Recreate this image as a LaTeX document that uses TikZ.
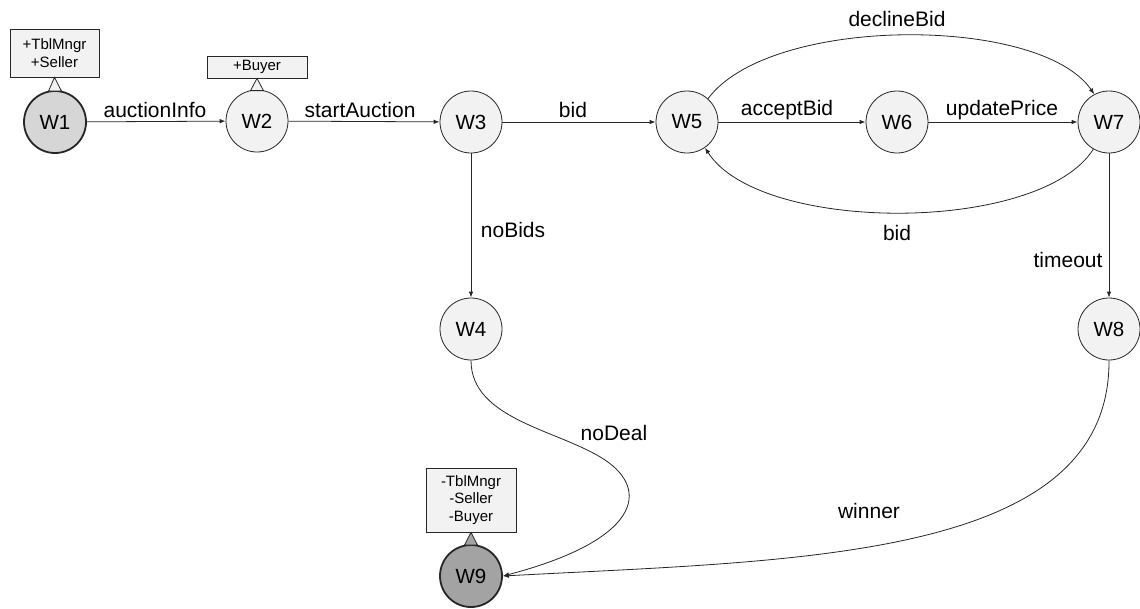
\documentclass[tikz,border=0pt]{standalone}
\usepackage{fontspec}
\setmainfont{Liberation Sans}
\usetikzlibrary{arrows.meta,calc}
\definecolor{nodefill}{HTML}{F2F2F2}
\definecolor{startfill}{HTML}{D6D6D6}
\definecolor{endfill}{HTML}{A3A3A3}
\definecolor{linec}{HTML}{262626}
\begin{document}
\begin{tikzpicture}[x=1pt,y=-1pt,
  state/.style={circle,draw=linec,line width=0.8pt,fill=nodefill,minimum size=62pt,inner sep=0pt,font=\fontsize{20.5}{24}\selectfont},
  startstate/.style={state,fill=startfill,line width=1.8pt},
  endstate/.style={state,fill=endfill,line width=1.8pt},
  rolebox/.style={draw=linec,line width=0.8pt,fill=nodefill,inner sep=0pt,align=center,font=\fontsize{15}{17.5}\selectfont},
  lbl/.style={font=\fontsize{21}{24}\selectfont,inner sep=0pt},
  arr/.style={draw=linec,line width=0.8pt,-{Latex[length=6pt,width=4.5pt]}},
  tri/.style={draw=linec,line width=0.8pt}
]
\useasboundingbox (0,0) rectangle (1140,608);

% states
\node[startstate] (w1) at (55,122) {W1};
\node[state] (w2) at (257,121) {W2};
\node[state] (w3) at (471,122) {W3};
\node[state] (w5) at (687,122) {W5};
\node[state] (w6) at (897,122) {W6};
\node[state] (w7) at (1109,122) {W7};
\node[state] (w4) at (471,329) {W4};
\node[state] (w8) at (1109,329) {W8};
\node[endstate] (w9) at (471,576) {W9};

% role boxes
\node[rolebox,minimum width=89pt,minimum height=48pt] (b1) at (54.5,53) {+TblMngr\\+Seller};
\node[rolebox,minimum width=100pt,minimum height=22pt] (b2) at (257,67) {+Buyer};
\node[rolebox,minimum width=90pt,minimum height=64pt] (b9) at (471,500) {-TblMngr\\-Seller\\-Buyer};

% triangles
\filldraw[tri,fill=nodefill] (b1.south) -- ($(w1.north)+(-6.5,1)$) -- ($(w1.north)+(6.5,1)$) -- cycle;
\filldraw[tri,fill=nodefill] (b2.south) -- ($(w2.north)+(-6.5,1)$) -- ($(w2.north)+(6.5,1)$) -- cycle;
\filldraw[tri,fill=endfill] (b9.south) -- ($(w9.north)+(-6.5,1)$) -- ($(w9.north)+(6.5,1)$) -- cycle;

% straight edges
\draw[arr] (w1) -- (w2);
\draw[arr] (w2) -- (w3);
\draw[arr] (w3) -- (w5);
\draw[arr] (w5) -- (w6);
\draw[arr] (w6) -- (w7);
\draw[arr] (w3) -- (w4);
\draw[arr] (w7) -- (w8);

% curved edges
\draw[arr] (w5.48) .. controls (770,15) and (1040,15) .. (w7.118);
\draw[arr] (w7.-120) .. controls (1040,234) and (760,234) .. (w5.-55);
\draw[arr] (w4.south) .. controls (471,420) and (560,430) .. (605,460) .. controls (650,490) and (640,540) .. (w9.east);
\draw[arr] (w8.south) .. controls (1110,560) and (800,560) .. (w9.east);

% labels
\node[lbl] (l1) at (155,110) {auctionInfo};
\node[lbl] (l2) at (360,110) {startAuction};
\node[lbl] (l3) at (573,110) {bid};
\node[lbl] (l4) at (787,110) {acceptBid};
\node[lbl] (l5) at (1002,110) {updatePrice};
\node[lbl] (l6) at (897,19) {declineBid};
\node[lbl] (l7) at (897,233) {bid};
\node[lbl] (l8) at (513,230) {noBids};
\node[lbl] (l9) at (1068,260) {timeout};
\node[lbl] (l10) at (614,433) {noDeal};
\node[lbl] (l11) at (869,511) {winner};
\end{tikzpicture}
\end{document}
